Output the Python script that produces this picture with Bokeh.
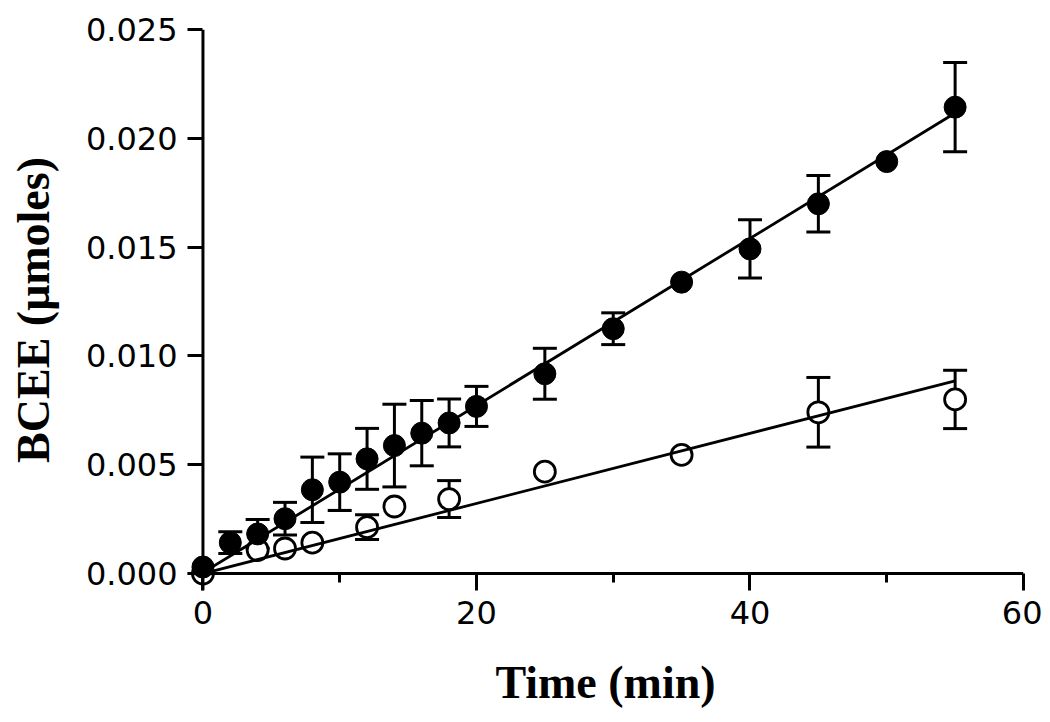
from bokeh.plotting import figure
from bokeh.models import Range1d, FixedTicker, Span, Whisker, TeeHead, ColumnDataSource, NumeralTickFormatter
from bokeh.embed import file_html
from bokeh.resources import INLINE

# ---- data ----
time_filled = [0, 2, 4, 6, 8, 10, 12, 14, 16, 18, 20, 25, 30, 35, 40, 45, 50, 55]
bcee_filled = [0.0003, 0.00142, 0.00182, 0.00252, 0.00385, 0.0042, 0.00527, 0.00588, 0.00645,
               0.00692, 0.00768, 0.00918, 0.01125, 0.01339, 0.01492, 0.01699, 0.01893, 0.02143]
err_filled = [0, 0.0005, 0.00066, 0.00075, 0.0015, 0.0013, 0.0014, 0.0019, 0.0015,
              0.0011, 0.00092, 0.00117, 0.00073, 0, 0.00134, 0.0013, 0, 0.00205]

time_open = [0, 4, 6, 8, 12, 14, 18, 25, 35, 45, 55]
bcee_open = [0.0, 0.00108, 0.00115, 0.00142, 0.00213, 0.00308, 0.00342, 0.00468, 0.00545, 0.00741, 0.0080]
err_open = [0, 0, 0, 0, 0.00057, 0, 0.00085, 0, 0, 0.0016, 0.00134]

# linear fits (slope, intercept) as drawn in the reference
fit_filled = (0.000384, 0.00004)
fit_open = (0.000161, 0.0)

x_ticks = [0, 20, 40, 60]
x_minor_ticks = [10, 30, 50]
y_ticks = [0.0, 0.005, 0.010, 0.015, 0.020, 0.025]

x_label = "Time (min)"
y_label = "BCEE (\u03bcmoles)"

# ---- figure ----
p = figure(width=1042, height=722,
           x_range=Range1d(-1.13, 60), y_range=Range1d(-0.00078, 0.025),
           output_backend="svg", toolbar_location=None,
           min_border_left=187, min_border_right=19, min_border_top=29, min_border_bottom=132)
p.xgrid.visible = False
p.ygrid.visible = False
p.outline_line_color = None
p.background_fill_color = "white"
p.border_fill_color = "white"

def line_pts(ts, fit):
    t0, t1 = min(ts), max(ts)
    return [t0, t1], [fit[1] + fit[0] * t0, fit[1] + fit[0] * t1]

# open-series error bars underneath hollow circles
o_idx = [i for i, e in enumerate(err_open) if e > 0]
src_oe = ColumnDataSource(dict(
    t=[time_open[i] for i in o_idx],
    lo=[bcee_open[i] - err_open[i] for i in o_idx],
    hi=[bcee_open[i] + err_open[i] for i in o_idx]))
w_open = Whisker(source=src_oe, base="t", lower="lo", upper="hi", line_width=3, line_color="black",
                 upper_head=TeeHead(size=24, line_width=3, line_color="black"),
                 lower_head=TeeHead(size=24, line_width=3, line_color="black"),
                 level="underlay")
p.add_layout(w_open)

p.scatter(time_open, bcee_open, marker="circle", size=21, fill_color="white",
          line_color="black", line_width=2.8)

lx, ly = line_pts(time_filled, fit_filled)
p.line(lx, ly, line_color="black", line_width=2.8)
lx, ly = line_pts(time_open, fit_open)
p.line(lx, ly, line_color="black", line_width=2.8)

p.scatter(time_filled, bcee_filled, marker="circle", size=22, fill_color="black",
          line_color="black", line_width=1)

f_idx = [i for i, e in enumerate(err_filled) if e > 0]
src_fe = ColumnDataSource(dict(
    t=[time_filled[i] for i in f_idx],
    lo=[bcee_filled[i] - err_filled[i] for i in f_idx],
    hi=[bcee_filled[i] + err_filled[i] for i in f_idx]))
w_filled = Whisker(source=src_fe, base="t", lower="lo", upper="hi", line_width=3, line_color="black",
                   upper_head=TeeHead(size=24, line_width=3, line_color="black"),
                   lower_head=TeeHead(size=24, line_width=3, line_color="black"))
p.add_layout(w_filled)

# axis lines at the data origin
p.add_layout(Span(location=0, dimension="height", line_color="black", line_width=3))
p.add_layout(Span(location=0, dimension="width", line_color="black", line_width=3))

# ---- axes ----
for ax in (p.xaxis[0], p.yaxis[0]):
    ax.axis_line_color = None
    ax.major_tick_line_color = "black"
    ax.major_tick_line_width = 3
    ax.major_tick_out = 0
    ax.major_label_text_font = "DejaVu Sans"
    ax.major_label_text_font_size = "32px"
    ax.major_label_text_color = "black"
    ax.axis_label_text_font = "Liberation Serif"
    ax.axis_label_text_font_style = "bold"
    ax.axis_label_text_font_size = "46px"
    ax.axis_label_text_color = "black"

xa = p.xaxis[0]
xa.ticker = FixedTicker(ticks=x_ticks, minor_ticks=x_minor_ticks)
xa.major_tick_in = 17
xa.minor_tick_in = 17
xa.minor_tick_out = -8
xa.minor_tick_line_width = 3
xa.minor_tick_line_color = "black"
xa.major_label_standoff = 10
xa.axis_label = x_label
xa.axis_label_standoff = 30

ya = p.yaxis[0]
ya.ticker = FixedTicker(ticks=y_ticks, minor_ticks=[])
ya.formatter = NumeralTickFormatter(format="0.000")
ya.major_tick_in = 15
ya.minor_tick_line_color = None
ya.major_label_standoff = 10
ya.axis_label = y_label
ya.axis_label_standoff = 24

open("out.html", "w").write(file_html(p, INLINE))
